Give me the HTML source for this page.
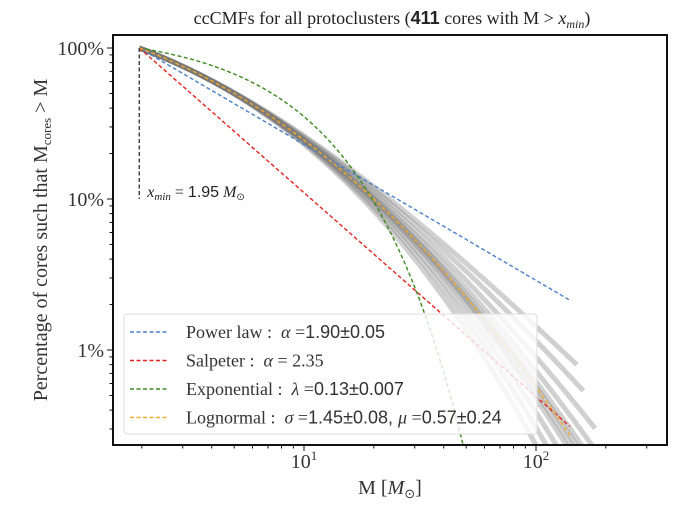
<!DOCTYPE html>
<html><head><meta charset="utf-8"><style>
html,body{margin:0;background:#fff;width:677px;height:508px;overflow:hidden}
svg{display:block}
svg text{font-family:"Liberation Serif",serif}
.sans{font-family:"Liberation Sans",sans-serif}
</style></head><body>
<svg id="chart" width="677" height="508" viewBox="0 0 677 508" xmlns="http://www.w3.org/2000/svg">
<defs><clipPath id="clip"><rect x="113" y="35" width="554" height="410"/></clipPath></defs>
<text x="392" y="24" font-size="18" text-anchor="middle" fill="#222">ccCMFs for all protoclusters (<tspan class="sans" font-weight="bold">411</tspan> cores with M &gt; <tspan font-style="italic">x</tspan><tspan font-style="italic" font-size="12" dy="4">min</tspan><tspan dy="-4">)</tspan></text>
<g id="plot" clip-path="url(#clip)"></g>
<g id="axes"></g>
<rect x="113" y="35" width="554" height="410" fill="none" stroke="#111" stroke-width="2"/>
<text x="390" y="494" font-size="20" text-anchor="middle" fill="#333">M [<tspan font-style="italic">M</tspan><tspan font-size="13" dy="4">⊙</tspan><tspan dy="-4">]</tspan></text>
<text transform="translate(47,240) rotate(-90)" font-size="20" text-anchor="middle" fill="#333">Percentage of cores such that M<tspan font-size="13" dy="4">cores</tspan><tspan dy="-4"> &gt; M</tspan></text>
</svg>
<script>
const xmin = 1.95;
const powerAlpha = 1.90;
const salpeterAlpha = 2.35;
const expLambda = 0.13;
const lnSigma = 1.45;
const lnMu = 0.57;
const fitXmax = 140;
const xTickValues = [10, 100];
const xTickLabels = ["1", "2"];
const yTickValues = [1, 0.1, 0.01];
const yTickLabels = ["100%", "10%", "1%"];
const bandSpread = [0.6, 0.7, 0.8, 0.9, 0.95, 1.0, 1.05, 1.15, 1.3, 1.5, 1.7];
const bandXmax = [120, 140, 150, 170, 190, 210, 230, 200, 180, 160, 150];

const svg = document.getElementById('chart');
const NS = 'http://www.w3.org/2000/svg';
const X0 = 304, XD = 232, Y0 = 48, YD = 151;
const xs = v => X0 + (Math.log10(v) - 1) * XD;
const ys = v => Y0 - Math.log10(v) * YD;
function erfc(x){const z=Math.abs(x),t=1/(1+0.5*z);const r=t*Math.exp(-z*z-1.26551223+t*(1.00002368+t*(0.37409196+t*(0.09678418+t*(-0.18628806+t*(0.27886807+t*(-1.13520398+t*(1.48851587+t*(-0.82215223+t*0.17087277)))))))));return x>=0?r:2-r;}
const lnS = x => 0.5*erfc((Math.log(x)-lnMu)/(lnSigma*Math.SQRT2));
const models = {
  power: x => Math.pow(x/xmin, 1-powerAlpha),
  salpeter: x => Math.pow(x/xmin, 1-salpeterAlpha),
  exponential: x => Math.exp(-expLambda*(x-xmin)),
  lognormal: x => lnS(x)/lnS(xmin)
};
function pathFor(f, x1, x2){let d='';for(let i=0;i<=200;i++){const x=x1*Math.pow(x2/x1,i/200);const v=f(x);if(v<=1e-5)break;d+=(i?'L':'M')+xs(x).toFixed(1)+','+ys(v).toFixed(1);}return d;}
const plot = document.getElementById('plot');
const axes = document.getElementById('axes');
function mk(tag, attrs, parent){const e=document.createElementNS(NS,tag);for(const k in attrs)e.setAttribute(k,attrs[k]);parent.appendChild(e);return e;}
bandSpread.forEach((s,i)=>{
  const f = x => { const v = models.lognormal(x); const w = Math.log10(x/xmin)/1.85; return v*Math.pow(s, w*w*w*2.2); };
  const p = mk('path',{d:pathFor(f,xmin,bandXmax[i]),fill:'none',stroke:'#777','stroke-width':5,'stroke-opacity':0.35,'stroke-linejoin':'round'},plot);
  
  
});
const fits = [['power','#4a7fc9',fitXmax],['salpeter','#e8221e',fitXmax],['exponential','#3d8a20',fitXmax],['lognormal','#f2a92c',fitXmax]];
fits.forEach(([k,c,xm])=>{
  const p = mk('path',{d:pathFor(models[k],xmin,xm),fill:'none',stroke:c,'stroke-width':1.4,'stroke-dasharray':'4,2.5'},plot);
  
  
});
const xl = mk('line',{x1:xs(xmin),x2:xs(xmin),y1:ys(1),y2:ys(0.1),stroke:'#444','stroke-width':1.5,'stroke-dasharray':'4,2.5'},plot);


const xt = mk('text',{x:xs(xmin)+8,y:ys(0.1)-2,'font-size':16,fill:'#222'},svg);


xt.innerHTML='<tspan font-style="italic">x</tspan><tspan font-style="italic" font-size="11" dy="3">min</tspan><tspan dy="-3"> = </tspan><tspan class="sans">1.95</tspan> <tspan font-style="italic">M</tspan><tspan font-size="10" dy="3">⊙</tspan>';
for(let e=0;e<3;e++){for(let m=1;m<10;m++){const v=m*Math.pow(10,e);const x=xs(v);if(x<113||x>667)continue;const major=m===1;
  const t=mk('line',{x1:x,x2:x,y1:445,y2:445+(major?6:3.5),stroke:'#111','stroke-width':1},axes);
  
  }}
xTickValues.forEach((v,i)=>{const t=mk('text',{x:xs(v),y:468,'font-size':20,'text-anchor':'middle',fill:'#333'},axes);
  
  
  t.innerHTML='10<tspan font-size="13" dy="-8">'+xTickLabels[i]+'</tspan>';});
for(let e=-3;e<=0;e++){for(let m=1;m<10;m++){const v=m*Math.pow(10,e);const y=ys(v);if(y<35||y>445)continue;const major=m===1;
  const t=mk('line',{x1:113,x2:113-(major?6:3.5),y1:y,y2:y,stroke:'#111','stroke-width':1},axes);
  
  }}
yTickValues.forEach((v,i)=>{const t=mk('text',{x:104,y:ys(v)+7,'font-size':20,'text-anchor':'end',fill:'#333'},axes);
  
  
  t.textContent=yTickLabels[i];});
const lg = mk('g',{},svg);


mk('rect',{x:124,y:314,width:413,height:120,rx:3,fill:'#fff','fill-opacity':0.8,stroke:'#ddd'},lg);
const legendText=[
 'Power law : &#160;<tspan font-style="italic">α</tspan> =<tspan class="sans">1.90±0.05</tspan>',
 'Salpeter : &#160;<tspan font-style="italic">α</tspan> = 2.35',
 'Exponential : &#160;<tspan font-style="italic">λ</tspan> =<tspan class="sans">0.13±0.007</tspan>',
 'Lognormal : &#160;<tspan font-style="italic">σ</tspan> =<tspan class="sans">1.45±0.08, </tspan> <tspan font-style="italic">μ</tspan> =<tspan class="sans">0.57±0.24</tspan>'];
fits.forEach(([k,c],i)=>{const y=332+i*28.5;
  const l=mk('line',{x1:130,x2:169,y1:y,y2:y,stroke:c,'stroke-width':1.4,'stroke-dasharray':'4,2.5'},lg);
  
  
  const t=mk('text',{x:186,y:y+6,'font-size':18,fill:'#333'},lg);
  
  
  t.innerHTML=legendText[i];});
</script>
</body></html>
